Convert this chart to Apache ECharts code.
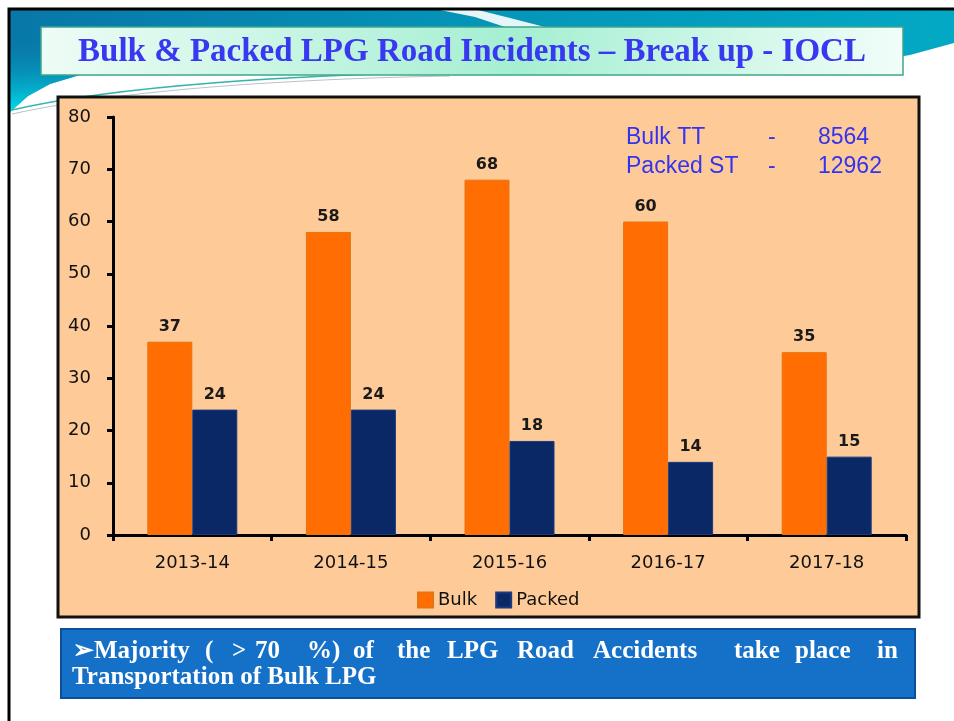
<!DOCTYPE html>
<html>
<head>
<meta charset="utf-8">
<script src="https://cdn.jsdelivr.net/npm/echarts@6/dist/echarts.min.js"></script>
<style>
  html, body { margin: 0; padding: 0; background: #fff; }
  #main { width: 954px; height: 721px; }
</style>
</head>
<body>
<div id="main"></div>
<script>
// data
var years = ['2013-14', '2014-15', '2015-16', '2016-17', '2017-18'];
var bulkData = [37, 58, 68, 60, 35];
var packedData = [24, 24, 18, 14, 15];
var seriesNames = ['Bulk', 'Packed'];
var fleetNames = ['Bulk TT', 'Packed ST'];
var fleetCounts = ['8564', '12962'];
var titleText = 'Bulk & Packed LPG Road Incidents \u2013 Break up - IOCL';
// first line is justified in the slide, so each word gets its own x
var noteWords = ['\u27A2Majority', '(', '>', '70', '%)', 'of', 'the', 'LPG', 'Road', 'Accidents', 'take', 'place', 'in'];
var noteWordX = [73, 205, 232, 255, 307, 353, 397, 447, 517, 593, 734, 795, 877];
var noteLine2 = 'Transportation of Bulk LPG';

var chart = echarts.init(document.getElementById('main'));

var noteFont = 'bold 25px "Liberation Serif", "DejaVu Serif", serif';

var graphics = [
  // teal swoosh at the top of the slide
  {
    type: 'polygon', z: -10,
    shape: { points: [[10, 10], [954, 10], [954, 43], [910, 55], [880, 60], [80, 75], [50, 84], [28, 96], [10, 112]] },
    style: {
      fill: new echarts.graphic.LinearGradient(0, 0, 1, 0, [
        { offset: 0, color: '#0877a8' },
        { offset: 0.5, color: '#0595b8' },
        { offset: 1, color: '#03a9c4' }
      ])
    }
  },
  {
    type: 'polygon', z: -9,
    shape: { points: [[10, 35], [45, 35], [45, 75], [80, 75], [50, 84], [28, 96], [10, 112]] },
    style: {
      fill: new echarts.graphic.LinearGradient(0, 0, 0, 1, [
        { offset: 0, color: 'rgba(8,125,172,0)' },
        { offset: 1, color: '#00dfec' }
      ])
    }
  },
  {
    type: 'polygon', z: -8,
    shape: { points: [[440, 10], [478, 10], [510, 18], [545, 27], [505, 27], [475, 17]] },
    style: { fill: 'rgba(255,255,255,0.9)' }
  },
  {
    type: 'bezierCurve', z: -8,
    shape: { x1: 12, y1: 110, cpx1: 120, cpy1: 85, cpx2: 300, cpy2: 75, x2: 450, y2: 72 },
    style: { fill: null, stroke: '#34b3ac', lineWidth: 1.5 }
  },
  {
    type: 'bezierCurve', z: -8,
    shape: { x1: 12, y1: 114, cpx1: 130, cpy1: 88, cpx2: 300, cpy2: 79, x2: 450, y2: 76 },
    style: { fill: null, stroke: '#b9c4c8', lineWidth: 1.2 }
  },
  // slide border
  {
    type: 'polyline', z: -5,
    shape: { points: [[9, 721], [9, 9], [954, 9]] },
    style: { stroke: '#000', lineWidth: 3, fill: null }
  },
  // title box
  {
    type: 'rect', z: 1,
    shape: { x: 41, y: 27, width: 862, height: 48 },
    style: {
      fill: new echarts.graphic.LinearGradient(0, 0, 1, 0, [
        { offset: 0, color: '#eefcf6' },
        { offset: 0.55, color: '#a4efd2' },
        { offset: 1, color: '#f2fdf9' }
      ]),
      stroke: '#3ea68c', lineWidth: 1.5
    }
  },
  {
    type: 'text', z: 2, x: 472, y: 52,
    style: {
      text: titleText,
      fill: '#3838f0',
      font: 'bold 33px "Liberation Serif", "DejaVu Serif", serif',
      align: 'center', verticalAlign: 'middle'
    }
  },
  // chart frame
  {
    type: 'rect', z: -2,
    shape: { x: 58, y: 97, width: 861, height: 520 },
    style: { fill: '#fecb98', stroke: '#111', lineWidth: 3 }
  },
  // bottom note box
  {
    type: 'rect', z: 1,
    shape: { x: 61, y: 629, width: 854, height: 69 },
    style: { fill: '#1570c8', stroke: '#0d4f98', lineWidth: 2 }
  },
  {
    type: 'text', z: 2, x: 72, y: 678,
    style: { text: noteLine2, fill: '#fff', font: noteFont, align: 'left', verticalAlign: 'middle' }
  }
];

noteWords.forEach(function (w, i) {
  graphics.push({
    type: 'text', z: 2, x: noteWordX[i], y: 652,
    style: { text: w, fill: '#fff', font: noteFont, align: 'left', verticalAlign: 'middle' }
  });
});

// fleet size note in the corner of the plot
fleetNames.forEach(function (n, i) {
  var y = 138 + i * 29;
  var f = '23px "Liberation Sans", Arial, sans-serif';
  graphics.push(
    { type: 'text', z: 3, x: 626, y: y, style: { text: n, fill: '#3434ee', font: f, verticalAlign: 'middle' } },
    { type: 'text', z: 3, x: 768, y: y, style: { text: '-', fill: '#3434ee', font: f, verticalAlign: 'middle' } },
    { type: 'text', z: 3, x: 818, y: y, style: { text: fleetCounts[i], fill: '#3434ee', font: f, verticalAlign: 'middle' } }
  );
});

var labelFont = '"DejaVu Sans", Verdana, sans-serif';

chart.setOption({
  backgroundColor: 'transparent',
  animation: false,
  graphic: graphics,
  grid: { left: 113, right: 48, top: 117, bottom: 186, containLabel: false },
  legend: {
    data: seriesNames,
    left: 412, top: 586,
    itemWidth: 15, itemHeight: 15, itemGap: 18,
    icon: 'rect',
    textStyle: { fontFamily: labelFont, fontSize: 18, color: '#111' }
  },
  xAxis: {
    type: 'category',
    data: years,
    axisLine: { lineStyle: { color: '#000', width: 3 } },
    axisTick: { show: true, length: 6, lineStyle: { color: '#000', width: 3 } },
    axisLabel: { fontFamily: labelFont, fontSize: 18, color: '#111', margin: 19 }
  },
  yAxis: {
    type: 'value',
    min: 0, max: 80, interval: 10,
    splitLine: { show: false },
    axisLine: { show: true, lineStyle: { color: '#000', width: 3 } },
    axisTick: { show: true, length: 6, lineStyle: { color: '#000', width: 3 } },
    axisLabel: { fontFamily: labelFont, fontSize: 18, color: '#111', margin: 22 }
  },
  series: [
    {
      name: seriesNames[0], type: 'bar', data: bulkData,
      barWidth: 45, barGap: '0%',
      itemStyle: { color: '#ff6d03', borderColor: '#e6750f', borderWidth: 1 },
      label: { show: true, position: 'top', distance: 7, fontFamily: labelFont, fontWeight: 'bold', fontSize: 16, color: '#1a1a1a' }
    },
    {
      name: seriesNames[1], type: 'bar', data: packedData,
      barWidth: 45,
      itemStyle: { color: '#0b2866', borderColor: '#1b3a80', borderWidth: 1 },
      label: { show: true, position: 'top', distance: 7, fontFamily: labelFont, fontWeight: 'bold', fontSize: 16, color: '#1a1a1a' }
    }
  ]
});
</script>
</body>
</html>
